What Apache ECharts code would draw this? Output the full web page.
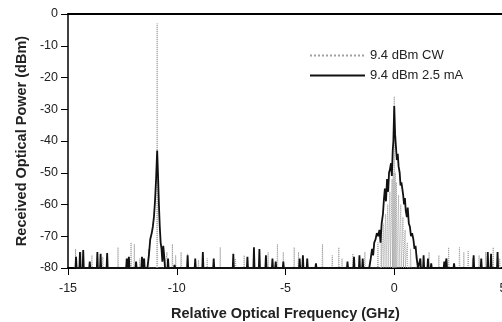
<!DOCTYPE html>
<html>
<head>
<meta charset="utf-8">
<script src="https://cdn.jsdelivr.net/npm/echarts@6/dist/echarts.min.js"></script>
<style>
  html, body { margin: 0; padding: 0; background: #fff; }
  #chart { width: 502px; height: 322px; }
</style>
</head>
<body>
<div id="chart"></div>
<script>
// axis ticks
const xTicks = [-15, -10, -5, 0, 5];
const yTicks = [-80, -70, -60, -50, -40, -30, -20, -10, 0];

// 9.4 dBm CW (grey dotted) - spikes rising from the -80 floor
const cwSpikeFreq  = [-14.65, -14.4, -13.9, -13.4, -12.7, -12.1, -11.95, -11.7, -11.3, -10.9, -10.55, -10.45, -10.2, -10.05, -9.8, -9.5, -9.0, -8.6, -8.0, -7.3, -6.9, -6.45, -5.8, -5.37, -5.1, -4.6, -4.4, -4.0, -3.3, -2.85, -2.55, -2.4, -1.9, -1.35,
  -0.75, -0.6, -0.5, -0.4, -0.3, -0.2, -0.1, -0.05, 0, 0.05, 0.1, 0.2, 0.3, 0.4, 0.5, 0.6, 0.75,
  1.05, 1.6, 2.05, 2.5, 3.0, 3.2, 3.4, 3.6, 3.9, 4.2, 4.55, 4.85];
const cwSpikeLevel = [-74, -75, -76, -76.5, -73.5, -72, -72.5, -77, -74, -3, -77, -75, -72.5, -76, -75, -75.5, -77.5, -77, -73.5, -77, -76, -74, -75, -72.5, -75, -73.5, -75, -77, -72.5, -76, -73.5, -77, -75.5, -75,
  -72, -70, -66, -63, -60, -56, -52, -50, -26, -50, -53, -57, -60, -64, -68, -72, -74,
  -76, -75, -76, -73.5, -73.5, -75, -74.5, -77, -76, -75, -73.5, -77];

// 9.4 dBm 2.5 mA (black solid) - noise spikes
const maSpikeFreq  = [-14.63, -14.45, -14.3, -14.0, -13.65, -13.5, -13.2, -12.3, -12.2, -11.87, -11.6, -11.5, -10.4, -10.1, -9.5, -9.15, -8.8, -8.3, -7.4, -6.75, -6.45, -6.2, -5.9, -5.6, -5.45, -5.1, -4.35, -4.2, -4.0, -3.6, -2.15, -1.85, -1.6, -1.45,
  1.2, 1.35, 1.55, 1.7, 2.3, 2.4, 2.75, 3.65, 4.0, 4.3, 4.45, 4.75];
const maSpikeLevel = [-76.5, -75, -74.3, -78, -75, -75.5, -75.3, -77, -76.5, -78, -76.5, -77, -77, -79, -76, -77, -75, -77, -75.5, -76.5, -73.5, -74, -76, -77, -78, -78, -77, -76, -77, -78.5, -78, -76.5, -76, -77,
  -77, -76, -77, -78.5, -78, -77, -78.5, -76, -77, -75, -75.5, -75];

// 2.5 mA peak envelopes
const maSidePeakFreq  = [-11.35, -11.28, -11.22, -11.15, -11.1, -11.05, -11.0, -10.95, -10.9, -10.86, -10.82, -10.78, -10.74, -10.7, -10.66, -10.62, -10.58, -10.54];
const maSidePeakLevel = [-80, -76, -71, -69, -67, -64, -59, -52, -43, -51, -60, -67, -72, -74, -78, -73, -76, -80];
const maMainPeakFreq  = [-1.15, -1.08, -1.02, -0.97, -0.92, -0.86, -0.8, -0.74, -0.68, -0.63, -0.58, -0.52, -0.47, -0.43, -0.38, -0.33, -0.28, -0.24, -0.2, -0.15, -0.11, -0.07, -0.04, 0, 0.04, 0.08, 0.12, 0.16, 0.2, 0.25, 0.29, 0.33, 0.37, 0.41, 0.45, 0.49, 0.53, 0.58, 0.62, 0.67, 0.72, 0.77, 0.82, 0.88, 0.93, 0.98, 1.03, 1.1];
const maMainPeakLevel = [-80, -77, -74, -76, -72, -71, -69, -70, -68, -72, -66, -63, -58, -55, -59, -52, -56, -50, -49, -47, -51, -43, -40, -29, -38, -42, -46, -44, -48, -50, -54, -53, -55, -57, -60, -58, -62, -64, -61, -66, -67, -70, -69, -71, -74, -73, -77, -80];

const FLOOR = -80;

function spikes(freq, level, w) {
  const out = [];
  freq.forEach((f, i) => {
    out.push([f - w, FLOOR], [f, level[i]], [f + w, FLOOR]);
  });
  return out;
}

function profile(freq, level) {
  return freq.map((f, i) => [f, level[i]]);
}

const cwData = spikes(cwSpikeFreq, cwSpikeLevel, 0.02).sort((a, b) => a[0] - b[0]);
const maData = spikes(maSpikeFreq, maSpikeLevel, 0.025)
  .concat(profile(maSidePeakFreq, maSidePeakLevel))
  .concat(profile(maMainPeakFreq, maMainPeakLevel))
  .sort((a, b) => a[0] - b[0]);

const chart = echarts.init(document.getElementById('chart'));
const font = 'Liberation Sans, Arial, Helvetica, sans-serif';

chart.setOption({
  animation: false,
  backgroundColor: '#fff',
  textStyle: { fontFamily: font },
  grid: { left: 68, right: -1, top: 14, bottom: 54, outerBoundsMode: 'none', containLabel: false },
  legend: {
    orient: 'vertical',
    left: 304,
    top: 44,
    itemWidth: 55,
    itemHeight: 12,
    itemGap: 7,
    itemStyle: { opacity: 0 },
    textStyle: { fontFamily: font, fontSize: 13, color: '#222' },
    data: ['9.4 dBm CW', '9.4 dBm 2.5 mA']
  },
  xAxis: [
    {
      type: 'value',
      min: xTicks[0],
      max: xTicks[xTicks.length - 1],
      interval: 5,
      name: 'Relative Optical Frequency (GHz)',
      nameLocation: 'middle',
      nameGap: 38,
      nameTextStyle: { fontFamily: font, fontSize: 14.5, fontWeight: 'bold', color: '#222' },
      axisLine: { onZero: false, lineStyle: { color: '#000', width: 2 } },
      axisTick: { show: true, length: 7, lineStyle: { color: '#000', width: 1 } },
      axisLabel: { margin: 14, fontFamily: font, fontSize: 12.5, color: '#222' },
      splitLine: { show: false }
    },
    {
      type: 'value',
      position: 'top',
      min: xTicks[0],
      max: xTicks[xTicks.length - 1],
      axisLine: { onZero: false, lineStyle: { color: '#000', width: 2 } },
      axisTick: { show: false },
      axisLabel: { show: false },
      splitLine: { show: false }
    }
  ],
  yAxis: {
    type: 'value',
    min: yTicks[0],
    max: yTicks[yTicks.length - 1],
    interval: 10,
    name: 'Received Optical Power (dBm)',
    nameLocation: 'middle',
    nameGap: 29,
    nameTextStyle: { fontFamily: font, fontSize: 14.5, fontWeight: 'bold', color: '#222' },
    axisLine: { show: true, onZero: false, lineStyle: { color: '#000', width: 1.5 } },
    axisTick: { show: true, length: 7, lineStyle: { color: '#000', width: 1 } },
    axisLabel: { margin: 10, fontFamily: font, fontSize: 12.5, color: '#222' },
    splitLine: { show: false }
  },
  series: [
    {
      name: '9.4 dBm CW',
      type: 'line',
      data: cwData,
      symbol: 'none',
      lineStyle: { color: '#a0a0a0', width: 1, type: 'dotted' },
      itemStyle: { color: '#a0a0a0' }
    },
    {
      name: '9.4 dBm 2.5 mA',
      type: 'line',
      data: maData,
      symbol: 'none',
      lineStyle: { color: '#111', width: 1.8 },
      itemStyle: { color: '#111' }
    }
  ]
});
</script>
</body>
</html>
